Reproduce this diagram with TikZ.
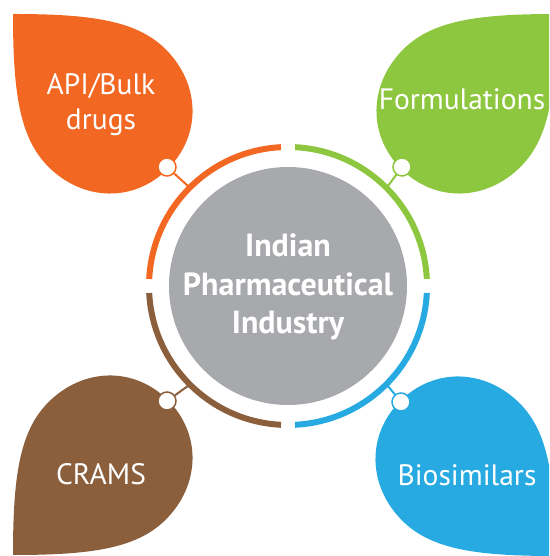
\documentclass[tikz,border=0pt]{standalone}
\usepackage{fontspec}
\setmainfont{PT Sans}
\usepackage{tikz}
\usetikzlibrary{positioning, calc}
\definecolor{apiorange}{HTML}{F26722}
\definecolor{formgreen}{HTML}{8DC63F}
\definecolor{cramsbrown}{HTML}{8B5E3C}
\definecolor{biosblue}{HTML}{27AAE1}
\definecolor{coregray}{HTML}{A7A9AC}

\begin{document}
\begin{tikzpicture}[x=1pt, y=1pt,
    leaf/.pic={\fill[pic actions] (0,0) 
      .. controls (55,55) and (92,83) .. (133,83)
      .. controls (182,83) and (219,48) .. (219,0)
      .. controls (219,-48) and (182,-83) .. (133,-83)
      .. controls (92,-83) and (55,-55) .. (0,0) -- cycle;},
    leaftext/.style={text=white, 
      font=\fontsize{29.5}{35}\selectfont, 
      align=center, 
      inner sep=0pt},
    knob/.style={circle, 
      draw=#1, 
      fill=white, 
      line width=1.5pt, 
      minimum size=18pt, 
      inner sep=0pt},
    wire/.style={line width=2pt},
    band/.style={line width=6pt}]
  \useasboundingbox (0,0) rectangle (549,556);
  \clip (0,0) rectangle (549,556);

% LEAVES

  \pic[fill=apiorange, rotate=-45] at (13,542) {leaf};
  \pic[fill=formgreen, rotate=-135] at (556,542) {leaf};
  \pic[fill=cramsbrown, rotate=45] at (13,1) {leaf};
  \pic[fill=biosblue, rotate=135] at (555,0) {leaf};

  \node[leaftext] (api) at (101,451) {API/Bulk\\drugs};
  \node[leaftext, anchor=base] (form) at (462,446) {Formulations};
  \node[leaftext, anchor=base] (crams) at (101,71) {CRAMS};
  \node[leaftext, anchor=base] (bios) at (467,70) {Biosimilars};

% CORE

  \node[circle, 
    fill=coregray, 
    minimum size=238pt, 
    inner sep=0pt] (core) at (288,270) {};
  \node[text=white, 
    align=center, 
    inner sep=0pt, 
    font=\bfseries\fontsize{32}{38.3}\selectfont] (coretext) at (288,269) 
    {Indian\\Pharmaceutical\\Industry};

  % RING

  \draw[band, formgreen] ([shift={(2.9:139)}]core.center) 
    arc[start angle=2.9, end angle=87.1, radius=139];
  \draw[band, apiorange] ([shift={(92.9:139)}]core.center) 
    arc[start angle=92.9, end angle=177.1, radius=139];
  \draw[band, cramsbrown] ([shift={(182.9:139)}]core.center) 
    arc[start angle=182.9, end angle=267.1, radius=139];
  \draw[band, biosblue] ([shift={(272.9:139)}]core.center) 
    arc[start angle=272.9, end angle=357.1, radius=139];

  % CONNECTORS

  \node[knob=apiorange] (apiknob) at (167,389) {};
  \node[knob=formgreen] (formknob) at (402,389) {};
  \node[knob=cramsbrown] (cramsknob) at (167,155) {};
  \node[knob=biosblue] (biosknob) at (401,154) {};

  \coordinate (apiring) at ([shift={(135:141)}]core.center);
  \coordinate (formring) at ([shift={(45:141)}]core.center);
  \coordinate (cramsring) at ([shift={(225:141)}]core.center);
  \coordinate (biosring) at ([shift={(315:141)}]core.center);

  \draw[wire, apiorange] (apiknob) -- (apiring);
  \draw[wire, formgreen] (formknob) -- (formring);
  \draw[wire, cramsbrown] (cramsknob) -- (cramsring);
  \draw[wire, biosblue] (biosknob) -- (biosring);

\end{tikzpicture}
\end{document}
